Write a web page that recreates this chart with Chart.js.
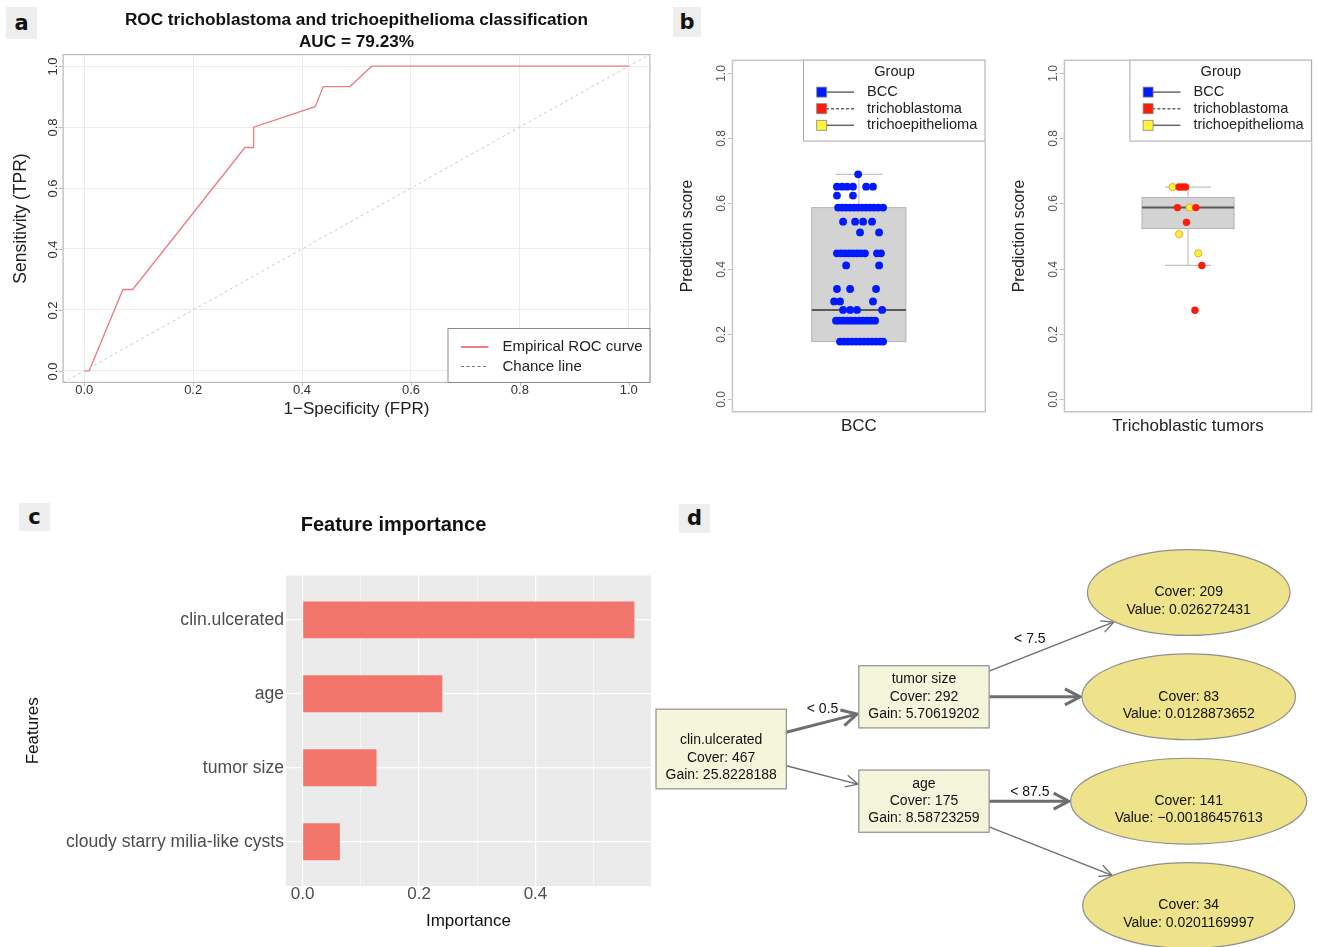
<!DOCTYPE html>
<html lang="en">
<head>
<meta charset="utf-8">
<title>ROC, prediction scores, feature importance and tree</title>
<script src="https://cdn.jsdelivr.net/npm/chart.js@4.4.1/dist/chart.umd.min.js"></script>
<style>
html,body{margin:0;padding:0;background:#fff;}
#fig{position:relative;width:1317px;height:947px;overflow:hidden;background:#fff;font-family:"Liberation Sans",Arial,sans-serif;}
#fig canvas{position:absolute;display:block;}
.plab{position:absolute;background:#eeeeee;color:#111;font-weight:bold;font-size:21px;display:flex;align-items:center;justify-content:center;line-height:1;font-family:"DejaVu Sans","Liberation Sans",sans-serif;}
</style>
</head>
<body>
<div id="fig">
  <canvas id="chartA" width="660" height="430" style="left:0;top:0;"></canvas>
  <canvas id="chartB1" width="330" height="440" style="left:660px;top:0;"></canvas>
  <canvas id="chartB2" width="325" height="440" style="left:992px;top:0;"></canvas>
  <canvas id="chartC" width="660" height="447" style="left:0;top:500px;"></canvas>
  <canvas id="chartD" width="667" height="407" style="left:650px;top:540px;"></canvas>
  <div class="plab" style="left:6px;top:7px;width:31px;height:32px;">a</div>
  <div class="plab" style="left:673px;top:7px;width:28px;height:30px;">b</div>
  <div class="plab" style="left:19px;top:503px;width:31px;height:28px;">c</div>
  <div class="plab" style="left:679px;top:504px;width:31px;height:29px;">d</div>
</div>
<script>
/* ================= DATA ================= */
// Panel a: ROC curve
const ROC_TITLE = 'ROC trichoblastoma and trichoepithelioma classification';
const ROC_AUC = 'AUC = 79.23%';
const ROC_FPR = [0, 0.009, 0.071, 0.089, 0.295, 0.311, 0.311, 0.424, 0.439, 0.488, 0.528, 1.0];
const ROC_TPR = [0, 0, 0.267, 0.267, 0.733, 0.733, 0.800, 0.867, 0.933, 0.933, 1.0, 1.0];
const ROC_LEGEND = ['Empirical ROC curve', 'Chance line'];
const ROC_XTITLE = '1\u2212Specificity (FPR)';
const ROC_YTITLE = 'Sensitivity (TPR)';
const UNIT_RANGE = [-0.04, 1.04];

// Panel b: prediction scores
const GROUPS = ['BCC', 'trichoblastoma', 'trichoepithelioma'];
const B_XLABELS = ['BCC', 'Trichoblastic tumors'];
const B_YTITLE = 'Prediction score';
const BCC_SCORE = [
  0.689,
  0.651, 0.651, 0.651, 0.651, 0.651, 0.651,
  0.624, 0.624,
  0.587, 0.587, 0.587, 0.587, 0.587, 0.587, 0.587, 0.587, 0.587, 0.587, 0.587, 0.587,
  0.544, 0.544, 0.544, 0.544,
  0.511, 0.511,
  0.447, 0.447, 0.447, 0.447, 0.447, 0.447, 0.447, 0.447, 0.447, 0.447,
  0.410, 0.410,
  0.338, 0.338, 0.338,
  0.300, 0.300, 0.300,
  0.274, 0.274, 0.274, 0.274,
  0.241, 0.241, 0.241, 0.241, 0.241, 0.241, 0.241, 0.241, 0.241, 0.241, 0.241,
  0.177, 0.177, 0.177, 0.177, 0.177, 0.177, 0.177, 0.177, 0.177, 0.177, 0.177, 0.177
];
const BCC_JITTER = [
  -0.003,
  -0.093, -0.071, -0.050, -0.025, 0.031, 0.060,
  -0.093, -0.025,
  -0.088, -0.071, -0.054, -0.037, -0.020, -0.003, 0.014, 0.031, 0.048, 0.064, 0.082, 0.103,
  -0.067, -0.016, 0.018, 0.056,
  0.005, 0.086,
  -0.093, -0.076, -0.059, -0.042, -0.025, -0.008, 0.009, 0.026, 0.077, 0.094,
  -0.054, 0.086,
  -0.093, -0.037, 0.073,
  -0.105, -0.080, 0.060,
  -0.067, -0.037, -0.008, 0.099,
  -0.097, -0.084, -0.067, -0.050, -0.033, -0.016, 0.001, 0.018, 0.035, 0.052, 0.069,
  -0.080, -0.063, -0.046, -0.029, -0.012, 0.005, 0.022, 0.039, 0.056, 0.073, 0.090, 0.103
];
const TB_SCORE  = [0.650, 0.650, 0.650, 0.587, 0.587, 0.542, 0.410, 0.273];
const TB_JITTER = [-0.039, -0.025, -0.011, -0.046, 0.034, -0.007, 0.060, 0.030];
const TE_SCORE  = [0.650, 0.587, 0.506, 0.447];
const TE_JITTER = [-0.067, 0.007, -0.039, 0.044];
// box statistics: lower whisker, Q1, median, Q3, upper whisker
const BCC_BOX    = [0.177, 0.177, 0.274, 0.587, 0.689];
const TRICHO_BOX = [0.410, 0.523, 0.587, 0.618, 0.650];

// Panel c: feature importance
const FI_TITLE = 'Feature importance';
const FEATURES = ['clin.ulcerated', 'age', 'tumor size', 'cloudy starry milia-like cysts'];
const IMPORTANCE = [0.570, 0.240, 0.127, 0.064];
const FI_XTITLE = 'Importance';
const FI_YTITLE = 'Features';

// Panel d: tree
const NODE_FEATURE = ['clin.ulcerated', 'tumor size', 'age', null, null, null, null];
const NODE_COVER   = [467, 292, 175, 209, 83, 141, 34];
const NODE_GAIN    = ['25.8228188', '5.70619202', '8.58723259', null, null, null, null];
const LEAF_VALUE   = [null, null, null, '0.026272431', '0.0128873652', '\u22120.00186457613', '0.0201169997'];
const EDGE_FROM    = [0, 0, 1, 1, 2, 2];
const EDGE_TO      = [1, 2, 3, 4, 5, 6];
const EDGE_LABEL   = ['< 0.5', '', '< 7.5', '', '< 87.5', ''];
const EDGE_DEFAULT = [true, false, false, true, true, false];

/* ================= STYLE / HELPERS ================= */
const F = '"Liberation Sans", Arial, Helvetica, sans-serif';
Chart.defaults.font.family = F;
Chart.defaults.animation = false;
const GROUP_FILL = ['#0019ff', '#ff1a0a', '#fff23a'];
const GROUP_EDGE = ['#0019ff', '#ff1a0a', '#f5a623'];

function rotatedYTicks(chart, xPos, font, color, tickColor) {
  const {ctx, chartArea: ca, scales: {y}} = chart;
  ctx.save();
  ctx.font = font; ctx.fillStyle = color;
  ctx.textAlign = 'center'; ctx.textBaseline = 'middle';
  ctx.strokeStyle = tickColor; ctx.lineWidth = 1;
  y.ticks.forEach(t => {
    const py = Math.round(y.getPixelForValue(t.value)) + 0.5;
    ctx.save(); ctx.translate(xPos, py); ctx.rotate(-Math.PI / 2);
    ctx.fillText(t.value.toFixed(1), 0, 0); ctx.restore();
    ctx.beginPath(); ctx.moveTo(ca.left - 4, py); ctx.lineTo(ca.left, py); ctx.stroke();
  });
  ctx.restore();
}
function frame(chart, color, lw) {
  const {ctx, chartArea: ca} = chart;
  ctx.save(); ctx.strokeStyle = color; ctx.lineWidth = lw;
  ctx.strokeRect(ca.left + lw / 2, ca.top + lw / 2, ca.right - ca.left - lw, ca.bottom - ca.top - lw);
  ctx.restore();
}

/* ================= PANEL a ================= */
const panelAPlugin = {
  id: 'panelA',
  afterDraw(chart) {
    const {ctx, chartArea: ca, scales: {x}} = chart;
    frame(chart, '#b8b8b8', 1.2);
    rotatedYTicks(chart, 53, '13px ' + F, '#333', '#b8b8b8');
    ctx.save();
    ctx.strokeStyle = '#b8b8b8'; ctx.lineWidth = 1;
    x.ticks.forEach(t => {
      const px = Math.round(x.getPixelForValue(t.value)) + 0.5;
      ctx.beginPath(); ctx.moveTo(px, ca.bottom); ctx.lineTo(px, ca.bottom + 3); ctx.stroke();
    });
    // title
    const cx = (ca.left + ca.right) / 2;
    ctx.fillStyle = '#111'; ctx.textAlign = 'center'; ctx.textBaseline = 'middle';
    ctx.font = 'bold 17.2px ' + F;
    ctx.fillText(ROC_TITLE, cx, 20);
    ctx.fillText(ROC_AUC, cx, 42);
    // legend
    const lw = 203, lh = 55;
    const lx = ca.right - lw, ly = ca.bottom - lh;
    ctx.fillStyle = '#fff'; ctx.fillRect(lx, ly, lw, lh);
    ctx.strokeStyle = '#8a8a8a'; ctx.lineWidth = 1;
    ctx.strokeRect(lx + 0.5, ly + 0.5, lw - 1, lh - 1);
    ctx.strokeStyle = '#f07f85'; ctx.lineWidth = 2;
    ctx.beginPath(); ctx.moveTo(lx + 13.5, ly + 19); ctx.lineTo(lx + 41, ly + 19); ctx.stroke();
    ctx.strokeStyle = '#777'; ctx.lineWidth = 1; ctx.setLineDash([3, 2.5]);
    ctx.beginPath(); ctx.moveTo(lx + 13.5, ly + 38.5); ctx.lineTo(lx + 41, ly + 38.5); ctx.stroke();
    ctx.setLineDash([]);
    ctx.fillStyle = '#222'; ctx.textAlign = 'left'; ctx.font = '15px ' + F;
    ctx.fillText(ROC_LEGEND[0], lx + 55, ly + 19);
    ctx.fillText(ROC_LEGEND[1], lx + 55, ly + 38.5);
    ctx.restore();
  }
};
new Chart(document.getElementById('chartA'), {
  type: 'scatter',
  data: {
    datasets: [
      {label: ROC_LEGEND[1], data: UNIT_RANGE.map(v => ({x: v, y: v})), showLine: true,
       borderColor: '#c9c9c9', borderDash: [3, 3], borderWidth: 1, pointRadius: 0},
      {label: ROC_LEGEND[0], data: ROC_FPR.map((v, i) => ({x: v, y: ROC_TPR[i]})), showLine: true,
       borderColor: '#ea7c83', borderWidth: 1.3, pointRadius: 0}
    ]
  },
  options: {
    responsive: false, animation: false, devicePixelRatio: 1,
    layout: {padding: {top: 54, left: 0, right: 9.5, bottom: 0}},
    plugins: {legend: {display: false}, tooltip: {enabled: false}},
    scales: {
      x: {type: 'linear', min: UNIT_RANGE[0], max: UNIT_RANGE[1],
          ticks: {stepSize: 0.2, includeBounds: false, autoSkip: false, maxRotation: 0, padding: 0,
                  color: '#333', font: {size: 13}, callback: v => v.toFixed(1)},
          grid: {color: '#ececec', drawTicks: false}, border: {display: false},
          title: {display: true, text: ROC_XTITLE, color: '#222', font: {size: 17}, padding: {bottom: 10.8}},
          afterFit(s) { s.height = 47; }},
      y: {type: 'linear', min: UNIT_RANGE[0], max: UNIT_RANGE[1],
          ticks: {display: false, stepSize: 0.2, includeBounds: false},
          grid: {color: '#ececec', drawTicks: false}, border: {display: false},
          title: {display: true, text: ROC_YTITLE, color: '#222', font: {size: 17.5}, padding: {top: 10.5}},
          afterFit(s) { s.width = 62.5; }}
    }
  },
  plugins: [panelAPlugin]
});

/* ================= PANEL b ================= */
const BOXWEX = 0.4, STAPLE = 0.2;
function boxPlugin(box) {
  return {
    id: 'boxpanel',
    beforeDatasetsDraw(chart) {
      const {ctx, scales: {x, y}} = chart;
      const [lo, q1, med, q3, hi] = box;
      const cx = x.getPixelForValue(1);
      const hw = x.getPixelForValue(1 + BOXWEX / 2) - cx;
      const sw = x.getPixelForValue(1 + STAPLE / 2) - cx;
      const Y = v => y.getPixelForValue(v);
      ctx.save();
      ctx.strokeStyle = '#c2c2c2'; ctx.lineWidth = 1.2;
      const seg = (a, b, c, d) => { ctx.beginPath(); ctx.moveTo(a, b); ctx.lineTo(c, d); ctx.stroke(); };
      seg(cx, Y(q3), cx, Y(hi)); seg(cx - sw, Y(hi), cx + sw, Y(hi));
      if (lo < q1) { seg(cx, Y(q1), cx, Y(lo)); seg(cx - sw, Y(lo), cx + sw, Y(lo)); }
      ctx.fillStyle = '#d3d3d3';
      ctx.fillRect(cx - hw, Y(q3), 2 * hw, Y(q1) - Y(q3));
      ctx.strokeStyle = '#b5b5b5'; ctx.lineWidth = 1;
      ctx.strokeRect(cx - hw, Y(q3), 2 * hw, Y(q1) - Y(q3));
      ctx.strokeStyle = '#595959'; ctx.lineWidth = 2;
      seg(cx - hw, Y(med), cx + hw, Y(med));
      ctx.restore();
    },
    afterDraw(chart) {
      const {ctx, chartArea: ca} = chart;
      frame(chart, '#c6c6c6', 1.5);
      rotatedYTicks(chart, 61.7, '12px ' + F, '#555', '#bdbdbd');
      // legend
      const lw = 183, lh = 82;
      const lx = ca.right - lw, ly = ca.top;
      ctx.save();
      ctx.fillStyle = '#fff'; ctx.fillRect(lx, ly, lw, lh);
      ctx.strokeStyle = '#a8a8a8'; ctx.lineWidth = 1;
      ctx.strokeRect(lx + 0.5, ly + 0.5, lw - 1.5, lh - 1);
      ctx.fillStyle = '#222'; ctx.textAlign = 'center'; ctx.textBaseline = 'middle';
      ctx.font = '14.6px ' + F;
      ctx.fillText('Group', lx + lw / 2, ly + 12);
      ctx.textAlign = 'left';
      GROUPS.forEach((g, i) => {
        const ry = ly + 32.5 + i * 16.6;
        ctx.strokeStyle = '#666'; ctx.lineWidth = 1.5;
        ctx.setLineDash(i === 1 ? [3, 2] : []);
        ctx.beginPath(); ctx.moveTo(lx + 23, ry); ctx.lineTo(lx + 51, ry); ctx.stroke();
        ctx.setLineDash([]);
        ctx.fillStyle = GROUP_FILL[i]; ctx.fillRect(lx + 13.7, ry - 5, 10, 10);
        ctx.strokeStyle = '#888'; ctx.lineWidth = 0.8; ctx.strokeRect(lx + 13.7, ry - 5, 10, 10);
        ctx.fillStyle = '#222'; ctx.fillText(g, lx + 64, ry);
      });
      ctx.restore();
    }
  };
}
function pointSet(scores, jitter, gi, r) {
  return {label: GROUPS[gi], data: scores.map((s, i) => ({x: 1 + jitter[i], y: s})),
          pointRadius: r, backgroundColor: GROUP_FILL[gi], borderColor: GROUP_EDGE[gi],
          borderWidth: gi === 2 ? 1 : 0, pointHoverRadius: r};
}
function makeBoxChart(id, box, datasets, xlabel, padRight) {
  return new Chart(document.getElementById(id), {
    type: 'scatter',
    data: {datasets},
    options: {
      responsive: false, animation: false, devicePixelRatio: 1,
      layout: {padding: {top: 59.6, left: 0, right: padRight, bottom: 0}},
      plugins: {legend: {display: false}, tooltip: {enabled: false}},
      scales: {
        x: {type: 'linear', min: 0.46, max: 1.54, ticks: {display: false}, grid: {display: false},
            border: {display: false},
            title: {display: true, text: xlabel, color: '#222', font: {size: 17}, padding: {bottom: 3.8}},
            afterFit(s) { s.height = 27.5; }},
        y: {type: 'linear', min: UNIT_RANGE[0], max: UNIT_RANGE[1],
            ticks: {display: false, stepSize: 0.2, includeBounds: false}, grid: {display: false},
            border: {display: false},
            title: {display: true, text: B_YTITLE, color: '#222', font: {size: 15.7}, padding: {top: 18.6}},
            afterFit(s) { s.width = 71.7; }}
      }
    },
    plugins: [boxPlugin(box)]
  });
}
makeBoxChart('chartB1', BCC_BOX, [pointSet(BCC_SCORE, BCC_JITTER, 0, 3.9)], B_XLABELS[0], 4);
makeBoxChart('chartB2', TRICHO_BOX, [pointSet(TB_SCORE, TB_JITTER, 1, 3.7), pointSet(TE_SCORE, TE_JITTER, 2, 3.6)], B_XLABELS[1], 0);

/* ================= PANEL c ================= */
const panelCPlugin = {
  id: 'panelC',
  beforeDraw(chart) {
    const {ctx, chartArea: ca} = chart;
    ctx.save(); ctx.fillStyle = '#ebebeb';
    ctx.fillRect(ca.left, ca.top, ca.right - ca.left, ca.bottom - ca.top);
    ctx.restore();
  },
  afterDraw(chart) {
    const {ctx} = chart;
    ctx.save();
    ctx.fillStyle = '#111'; ctx.font = 'bold 20px ' + F;
    ctx.textAlign = 'center'; ctx.textBaseline = 'middle';
    ctx.fillText(FI_TITLE, 393.5, 25);
    ctx.restore();
  }
};
const isMajor = v => Math.round(v * 10) % 2 === 0;
new Chart(document.getElementById('chartC'), {
  type: 'bar',
  data: {datasets: [{label: FI_XTITLE, data: IMPORTANCE.map((v, i) => ({x: v, y: i + 1})),
                     backgroundColor: '#f3766d', borderWidth: 0, barPercentage: 0.5, categoryPercentage: 1}]},
  options: {
    indexAxis: 'y', responsive: false, animation: false, devicePixelRatio: 1,
    layout: {padding: {top: 75.5, left: 0, right: 9, bottom: 0}},
    plugins: {legend: {display: false}, tooltip: {enabled: false}},
    scales: {
      x: {type: 'linear', min: -0.0285, max: 0.5985, offset: false,
          ticks: {stepSize: 0.1, includeBounds: false, autoSkip: false, maxRotation: 0, padding: -2,
                  color: '#4d4d4d', font: {size: 17}, callback: v => isMajor(v) ? v.toFixed(1) : ''},
          grid: {color: '#ffffff', lineWidth: c => (c.tick && isMajor(c.tick.value)) ? 1.2 : 0.6, drawTicks: false, offset: false},
          border: {display: false},
          title: {display: true, text: FI_XTITLE, color: '#111', font: {size: 17}, padding: {bottom: 15}},
          afterFit(s) { s.height = 61; }},
      y: {type: 'linear', min: 0.4, max: 4.6, reverse: true, offset: false,
          ticks: {stepSize: 1, includeBounds: false, autoSkip: false, padding: 2,
                  color: '#4d4d4d', font: {size: 17.6}, callback: v => FEATURES[Math.round(v) - 1] || ''},
          grid: {color: '#ffffff', lineWidth: 1.2, drawTicks: false, offset: false},
          border: {display: false},
          title: {display: true, text: FI_YTITLE, color: '#111', font: {size: 17}, padding: {top: 22.8}},
          afterFit(s) { s.width = 286; }}
    }
  },
  plugins: [panelCPlugin]
});

/* ================= PANEL d ================= */
const TREE_FONT = '14px ' + F, LINE_H = 17.4;
const RANK_GAP = [72.5, 81.5], TREE_LEFT = 6, ROW0_Y = 52.5, ROW_STEP = 104.33;
const measure = document.createElement('canvas').getContext('2d');
measure.font = TREE_FONT;
const nNodes = NODE_COVER.length;
const children = Array.from({length: nNodes}, () => []);
const depth = new Array(nNodes).fill(0);
EDGE_FROM.forEach((f, i) => { children[f].push(i); });
(function setDepth(n, d) { depth[n] = d; children[n].forEach(ei => setDepth(EDGE_TO[ei], d + 1)); })(0, 0);
const isLeaf = n => children[n].length === 0;
const lines = [];
for (let n = 0; n < nNodes; n++) {
  if (isLeaf(n)) lines.push(['', 'Cover: ' + NODE_COVER[n], 'Value: ' + LEAF_VALUE[n]]);
  else {
    const l = [NODE_FEATURE[n], 'Cover: ' + NODE_COVER[n], 'Gain: ' + NODE_GAIN[n]];
    if (depth[n] === 0) l.unshift('');
    lines.push(l);
  }
}
const size = lines.map((l, n) => {
  const w = Math.max(...l.map(s => measure.measureText(s).width));
  const h = l.length * LINE_H;
  return isLeaf(n) ? {rx: w / 2 * 1.414 + 13.4, ry: h / 2 * 1.414 + 6}
                   : {rx: (w + 19) / 2, ry: (h + 10) / 2};
});
// rows: leaves in depth-first order; parent of two leaves aligns with default child
const row = new Array(nNodes).fill(0);
let nextRow = 0;
(function setRow(n) {
  if (isLeaf(n)) { row[n] = nextRow++; return; }
  children[n].forEach(ei => setRow(EDGE_TO[ei]));
  const kids = children[n].map(ei => EDGE_TO[ei]);
  if (kids.every(isLeaf)) {
    const def = children[n].find(ei => EDGE_DEFAULT[ei]);
    row[n] = row[EDGE_TO[def]];
  } else row[n] = kids.reduce((a, k) => a + row[k], 0) / kids.length;
})(0);
const maxDepth = Math.max(...depth);
const rankHalf = [];
for (let d = 0; d <= maxDepth; d++) rankHalf.push(Math.max(...size.filter((s, n) => depth[n] === d).map(s => s.rx)));
const rankX = [TREE_LEFT + rankHalf[0]];
for (let d = 1; d <= maxDepth; d++) rankX.push(rankX[d - 1] + rankHalf[d - 1] + RANK_GAP[d - 1] + rankHalf[d]);

function boundaryT(n, dx, dy) {
  // fraction along (dx,dy) from node centre to its outline
  const s = size[n];
  if (isLeaf(n)) return 1 / Math.sqrt((dx / s.rx) ** 2 + (dy / s.ry) ** 2);
  return Math.min(dx ? s.rx / Math.abs(dx) : Infinity, dy ? s.ry / Math.abs(dy) : Infinity);
}
const treePlugin = {
  id: 'tree',
  afterDatasetsDraw(chart) {
    const {ctx, scales: {x, y}} = chart;
    const P = n => [x.getPixelForValue(rankX[depth[n]]), y.getPixelForValue(row[n])];
    ctx.save();
    // edges
    EDGE_FROM.forEach((f, i) => {
      const t = EDGE_TO[i];
      const [x1, y1] = P(f), [x2, y2] = P(t);
      const dx = x2 - x1, dy = y2 - y1;
      const a = boundaryT(f, dx, dy), b = 1 - boundaryT(t, -dx, -dy);
      const sx = x1 + dx * a, sy = y1 + dy * a, ex = x1 + dx * b, ey = y1 + dy * b;
      const thick = EDGE_DEFAULT[i];
      const lw = thick ? 3 : 1.3, L = thick ? 17 : 13, hw = thick ? 8 : 6;
      const ang = Math.atan2(ey - sy, ex - sx);
      ctx.strokeStyle = '#6e6e6e'; ctx.lineWidth = lw; ctx.lineJoin = 'miter'; ctx.lineCap = 'butt';
      ctx.beginPath(); ctx.moveTo(sx, sy);
      ctx.lineTo(ex - Math.cos(ang) * lw, ey - Math.sin(ang) * lw); ctx.stroke();
      ctx.beginPath();
      ctx.moveTo(ex - L * Math.cos(ang) + hw * Math.sin(ang), ey - L * Math.sin(ang) - hw * Math.cos(ang));
      ctx.lineTo(ex - Math.cos(ang) * lw * 0.6, ey - Math.sin(ang) * lw * 0.6);
      ctx.lineTo(ex - L * Math.cos(ang) - hw * Math.sin(ang), ey - L * Math.sin(ang) + hw * Math.cos(ang));
      ctx.stroke();
      if (EDGE_LABEL[i]) {
        const rankLeft = x.getPixelForValue(rankX[depth[t]] - rankHalf[depth[t]]);
        const xm = (sx + rankLeft) / 2;
        const slope = (ey - sy) / (ex - sx);
        const ly = sy + slope * (xm - sx) - (9 + 18 * Math.abs(slope));
        ctx.fillStyle = '#111'; ctx.font = TREE_FONT; ctx.textAlign = 'center'; ctx.textBaseline = 'middle';
        ctx.fillText(EDGE_LABEL[i], xm, ly);
      }
    });
    // nodes
    for (let n = 0; n < nNodes; n++) {
      const [cx, cy] = P(n), s = size[n];
      ctx.lineWidth = 1.2; ctx.strokeStyle = '#8f8f8f';
      if (isLeaf(n)) {
        ctx.fillStyle = '#eee38b';
        ctx.beginPath(); ctx.ellipse(cx, cy, s.rx, s.ry, 0, 0, Math.PI * 2); ctx.fill(); ctx.stroke();
      } else {
        ctx.fillStyle = '#f5f5dc';
        ctx.fillRect(cx - s.rx, cy - s.ry, 2 * s.rx, 2 * s.ry);
        ctx.strokeRect(cx - s.rx, cy - s.ry, 2 * s.rx, 2 * s.ry);
      }
      ctx.fillStyle = '#111'; ctx.font = TREE_FONT; ctx.textAlign = 'center'; ctx.textBaseline = 'middle';
      const l = lines[n];
      l.forEach((txt, k) => { if (txt) ctx.fillText(txt, cx, cy + (k - (l.length - 1) / 2) * LINE_H); });
    }
    ctx.restore();
  }
};
const D_H = 407, D_W = 667;
new Chart(document.getElementById('chartD'), {
  type: 'scatter',
  data: {datasets: [{label: 'nodes', data: NODE_COVER.map((c, n) => ({x: rankX[depth[n]], y: row[n]})), pointRadius: 0}]},
  options: {
    responsive: false, animation: false, devicePixelRatio: 1,
    layout: {padding: 0},
    plugins: {legend: {display: false}, tooltip: {enabled: false}},
    scales: {
      x: {type: 'linear', display: false, min: 0, max: D_W},
      y: {type: 'linear', display: false, reverse: true,
          min: -ROW0_Y / ROW_STEP, max: (D_H - ROW0_Y) / ROW_STEP}
    }
  },
  plugins: [treePlugin]
});
</script>
</body>
</html>
